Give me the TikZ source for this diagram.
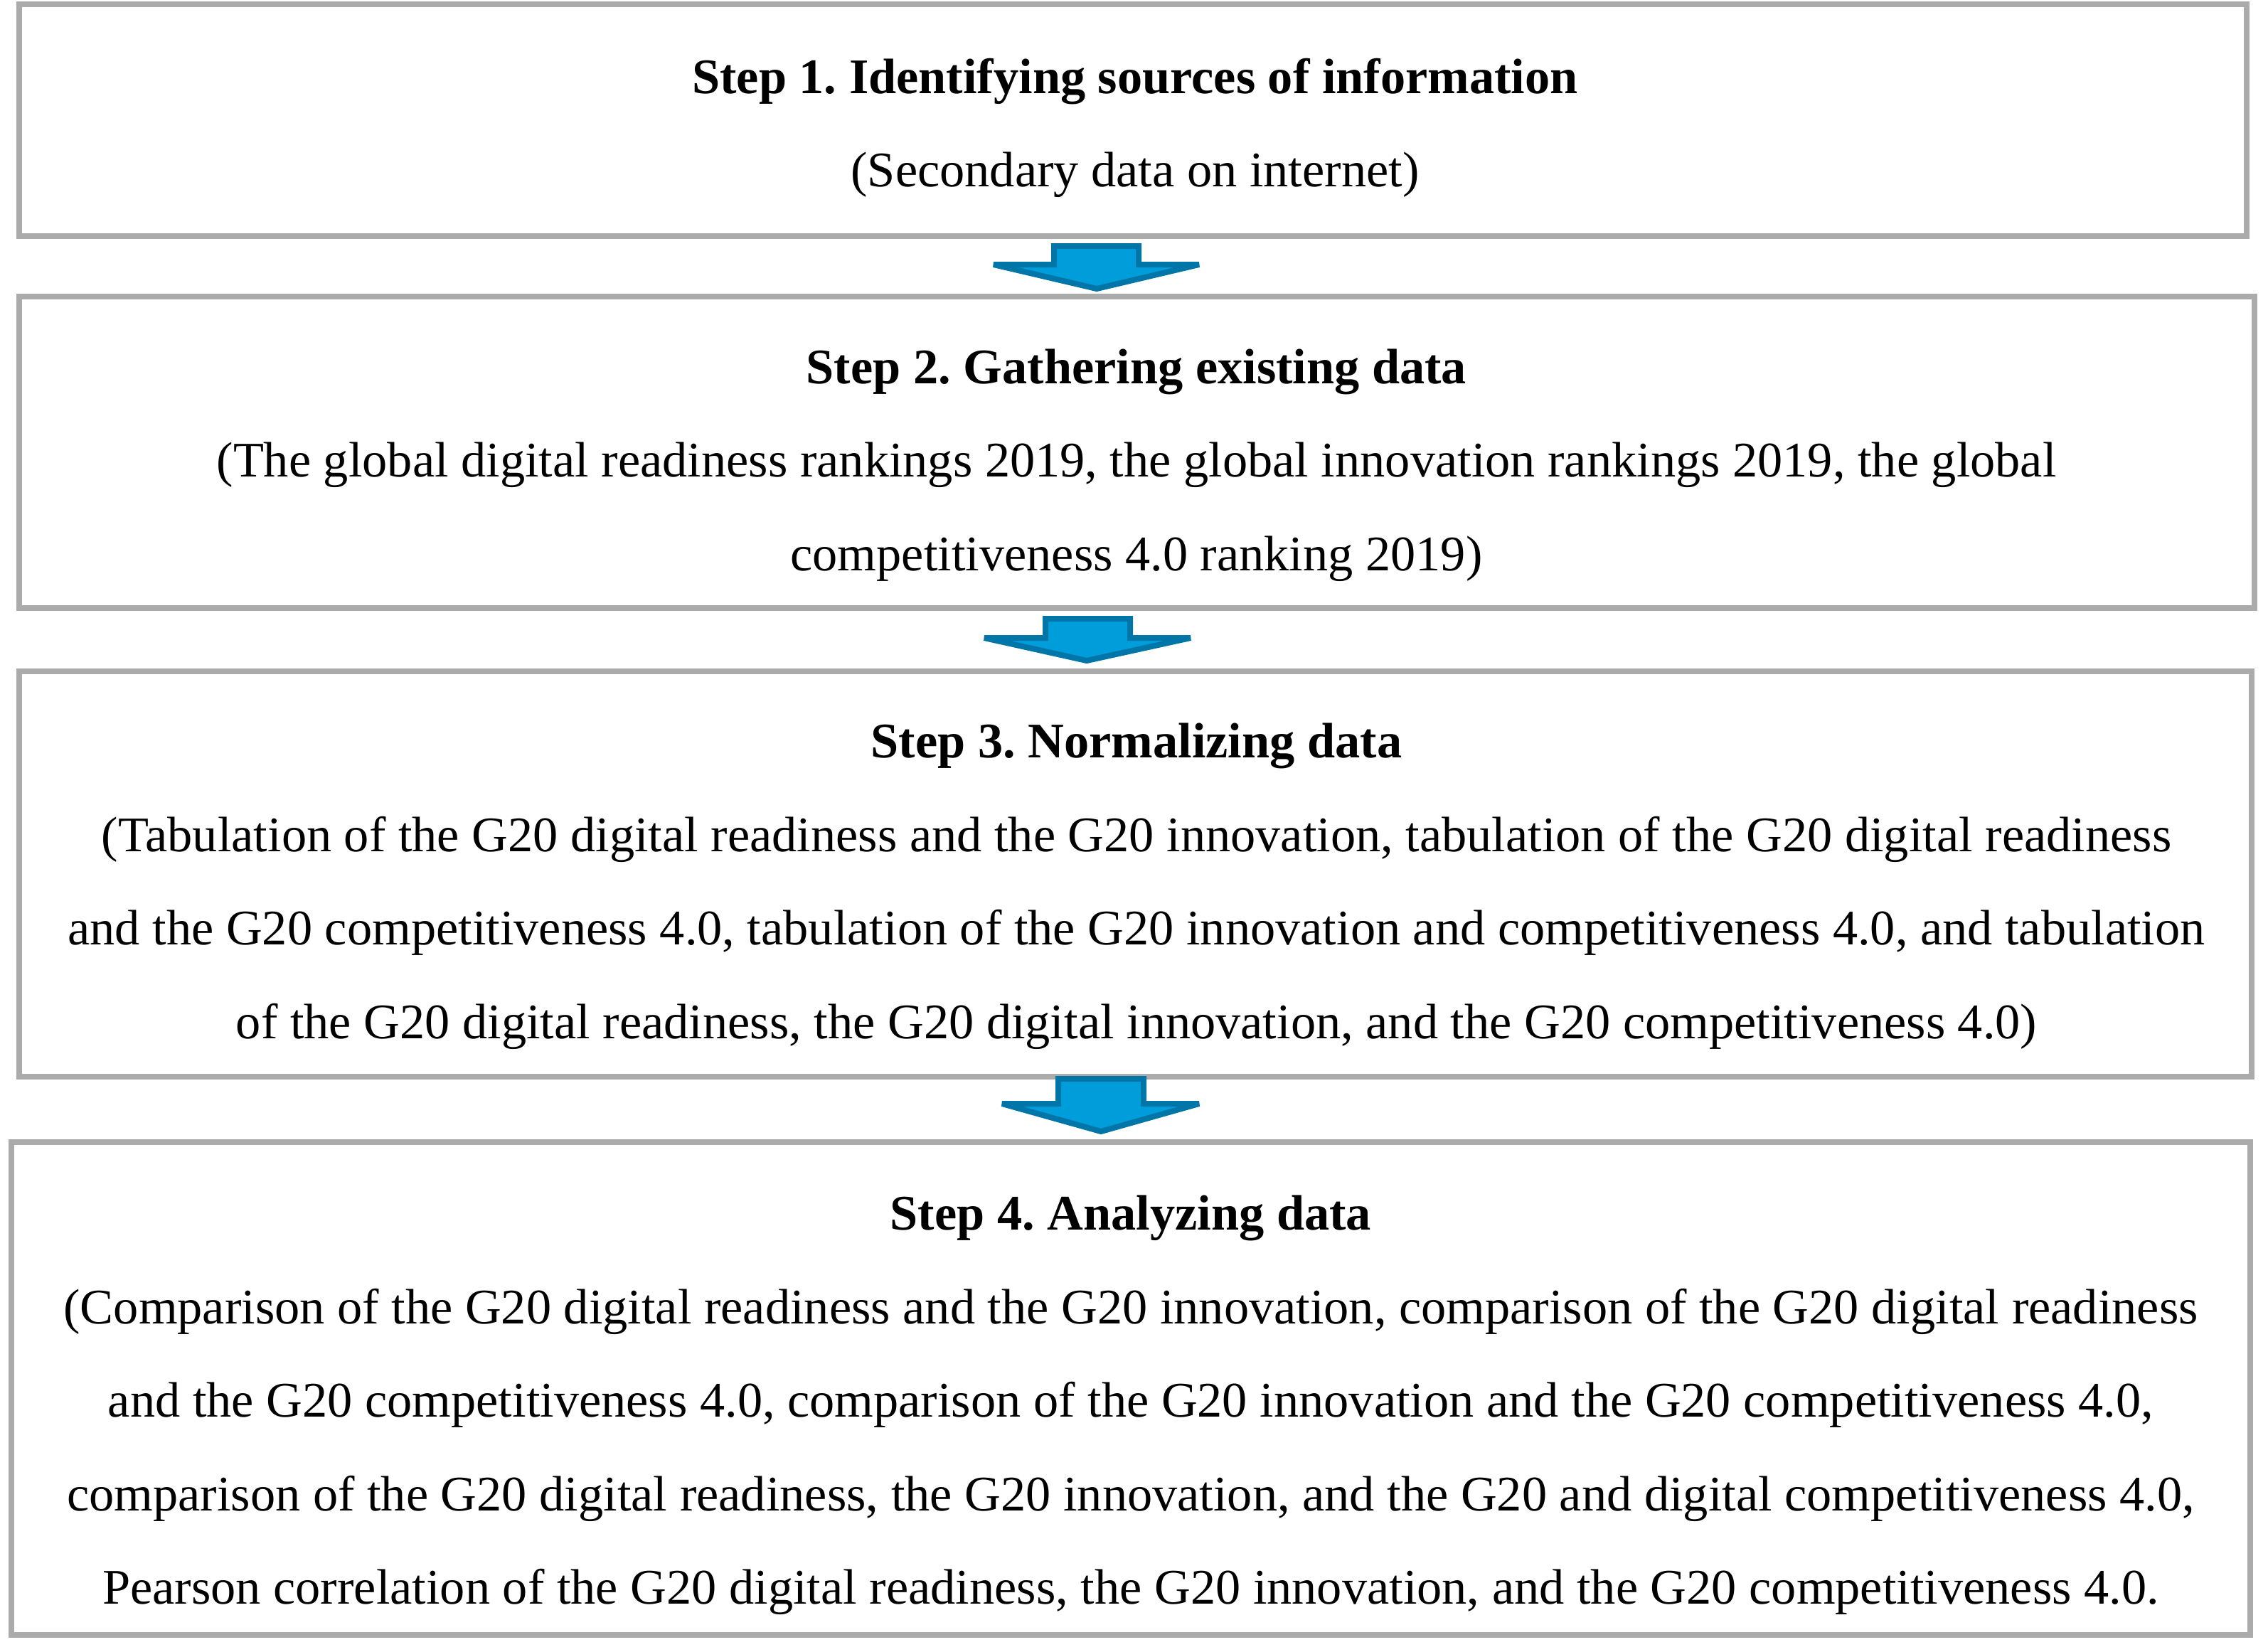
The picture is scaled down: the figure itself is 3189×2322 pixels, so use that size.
\documentclass[tikz,border=0pt]{standalone}
\usepackage{fontspec}
\setmainfont{Liberation Serif}
\frenchspacing
\definecolor{boxgray}{HTML}{ABABAB}
\definecolor{arrowfill}{HTML}{009DDB}
\definecolor{arrowline}{HTML}{0075A8}
\tikzset{
  stepbox/.style={draw=boxgray, line width=1.6pt},
  steptext/.style={align=center, inner sep=0pt, xscale=1.005, transform shape,
    font=\fontsize{14}{26.3}\selectfont},
  blockarrow/.style={fill=arrowfill, draw=arrowline, line width=1.6pt, line join=miter, miter limit=1.5}
}
\begin{document}
\begin{tikzpicture}[x=0.2pt,y=-0.2pt]
\useasboundingbox (0,0) rectangle (3189,2322);
% boxes
\draw[stepbox] (27,6) rectangle (3159,332);
\draw[stepbox] (27,417) rectangle (3170,855);
\draw[stepbox] (27,944) rectangle (3166,1514);
\draw[stepbox] (16,1606) rectangle (3164,2299);
% texts
\node[steptext] (t1) at (1596,180) {\textbf{Step 1. Identifying sources of information}\\
(Secondary data on internet)};
\node[steptext] (t2) at (1598,654) {\textbf{Step 2. Gathering existing data}\\
(The global digital readiness rankings 2019, the global innovation rankings 2019, the global\\
competitiveness 4.0 ranking 2019)};
\node[steptext] (t3) at (1598,1246) {\textbf{Step 3. Normalizing data}\\
(Tabulation of the G20 digital readiness and the G20 innovation, tabulation of the G20 digital readiness\\
and the G20 competitiveness 4.0, tabulation of the G20 innovation and competitiveness 4.0, and tabulation\\
of the G20 digital readiness, the G20 digital innovation, and the G20 competitiveness 4.0)};
\node[steptext] (t4) at (1590,1976) {\textbf{Step 4. Analyzing data}\\
(Comparison of the G20 digital readiness and the G20 innovation, comparison of the G20 digital readiness\\
and the G20 competitiveness 4.0, comparison of the G20 innovation and the G20 competitiveness 4.0,\\
comparison of the G20 digital readiness, the G20 innovation, and the G20 and digital competitiveness 4.0,\\
Pearson correlation of the G20 digital readiness, the G20 innovation, and the G20 competitiveness 4.0.};
% arrows
\draw[blockarrow] (1482,346) -- (1601,346) -- (1601,372) -- (1686,372) -- (1542,406) -- (1397,372) -- (1482,372) -- cycle;
\draw[blockarrow] (1470,870) -- (1589,870) -- (1589,897) -- (1674,897) -- (1528,929) -- (1384,897) -- (1470,897) -- cycle;
\draw[blockarrow] (1488,1517) -- (1608,1517) -- (1608,1552) -- (1686,1552) -- (1548,1591) -- (1409,1552) -- (1488,1552) -- cycle;
\end{tikzpicture}
\end{document}
